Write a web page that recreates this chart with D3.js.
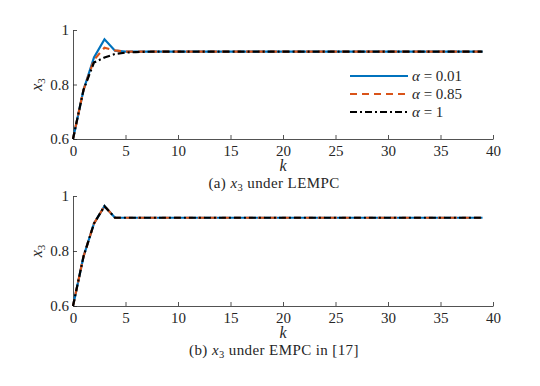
<!DOCTYPE html>
<html><head><meta charset="utf-8">
<script src="https://cdn.jsdelivr.net/npm/d3@7"></script>
<style>
body{margin:0;background:#fff;}
svg text{font-family:"Liberation Serif","DejaVu Serif",serif;fill:#262626;}
</style></head>
<body><svg id="c" width="540" height="386"></svg>
<script>
const steps = d3.range(0, 40);
const steady = 0.921;
const headA001 = [0.6, 0.78, 0.899, 0.966, 0.924, 0.921];
const headA085 = [0.6, 0.78, 0.89, 0.935, 0.925, 0.921];
const headA1   = [0.6, 0.78, 0.881, 0.899, 0.912, 0.917, 0.919, 0.920];
const headEMPC = [0.6, 0.78, 0.90, 0.963, 0.921];
function fill(head){ return steps.map(k => k < head.length ? head[k] : steady); }
const topSeries = [
  {name:"0.01", values: fill(headA001)},
  {name:"0.85", values: fill(headA085)},
  {name:"1",    values: fill(headA1)}
];
const botSeries = [
  {name:"0.01", values: fill(headEMPC)},
  {name:"0.85", values: fill(headEMPC)},
  {name:"1",    values: fill(headEMPC)}
];
const xTicks = [0,5,10,15,20,25,30,35,40];
const yTicks = [0.6, 0.8, 1];
const styles = [
  {color:"#0072BD", dash:null},
  {color:"#D95319", dash:"7,5"},
  {color:"#000000", dash:"7,3,2,3"}
];

const svg = d3.select("#c");
const x = d3.scaleLinear().domain([0,40]).range([73,493]);

function panel(y0, y1, series, caption, legend){
  const y = d3.scaleLinear().domain([0.6,1]).range([y1,y0]);
  const g = svg.append("g");
  const xa = g.append("g").attr("transform",`translate(0,${y1})`)
    .call(d3.axisBottom(x).tickValues(xTicks).tickSizeInner(-4).tickSizeOuter(0).tickPadding(6));
  const ya = g.append("g").attr("transform",`translate(73,0)`)
    .call(d3.axisLeft(y).tickValues(yTicks).tickSizeInner(-4).tickSizeOuter(0).tickPadding(4).tickFormat(d=>d===1?"1":d3.format(".1f")(d)));
  [xa,ya].forEach(a=>{
    a.attr("font-family",null);
    a.selectAll("path,line").attr("stroke","#262626").attr("stroke-width",0.8);
    a.selectAll("text").attr("font-size",15).attr("fill","#262626");
  });
  const line = d3.line().x((d,i)=>x(steps[i])).y(d=>y(d));
  series.forEach((s,i)=>{
    g.append("path").attr("d", line(s.values)).attr("fill","none")
      .attr("stroke", styles[i].color).attr("stroke-width",2.2)
      .attr("stroke-dasharray", styles[i].dash).attr("stroke-linejoin","miter");
  });
  const yl = g.append("text").attr("transform",`translate(42,${(y0+y1)/2}) rotate(-90)`)
    .attr("text-anchor","middle").attr("font-size",16);
  yl.append("tspan").attr("font-style","italic").text("x");
  yl.append("tspan").attr("font-size",11).attr("dy",3).text("3");
  g.append("text").attr("x",283).attr("y",y1+32).attr("text-anchor","middle")
    .attr("font-size",16).attr("font-style","italic").text("k");
  const c = g.append("text").attr("x",274).attr("y",y1+49).attr("text-anchor","middle")
    .attr("font-size",15).attr("letter-spacing",0.4);
  c.append("tspan").text(caption[0] + " ");
  c.append("tspan").attr("font-style","italic").text("x");
  c.append("tspan").attr("font-size",10.5).attr("dy",3).text("3");
  c.append("tspan").attr("dy",-3).text(" " + caption[1]);
  if(legend){
    const rows = [76, 94, 112];
    series.forEach((s,i)=>{
      g.append("line").attr("x1",350).attr("x2",408).attr("y1",rows[i]).attr("y2",rows[i])
        .attr("stroke",styles[i].color).attr("stroke-width",2.2).attr("stroke-dasharray",styles[i].dash);
      const t = g.append("text").attr("x",412).attr("y",rows[i]+5).attr("font-size",15);
      t.append("tspan").attr("font-style","italic").text("α");
      t.append("tspan").text(" = " + s.name);
    });
  }
}
panel(30, 139, topSeries, ["(a)","under LEMPC"], true);
panel(196, 306, botSeries, ["(b)","under EMPC in [17]"], false);
</script></body></html>
